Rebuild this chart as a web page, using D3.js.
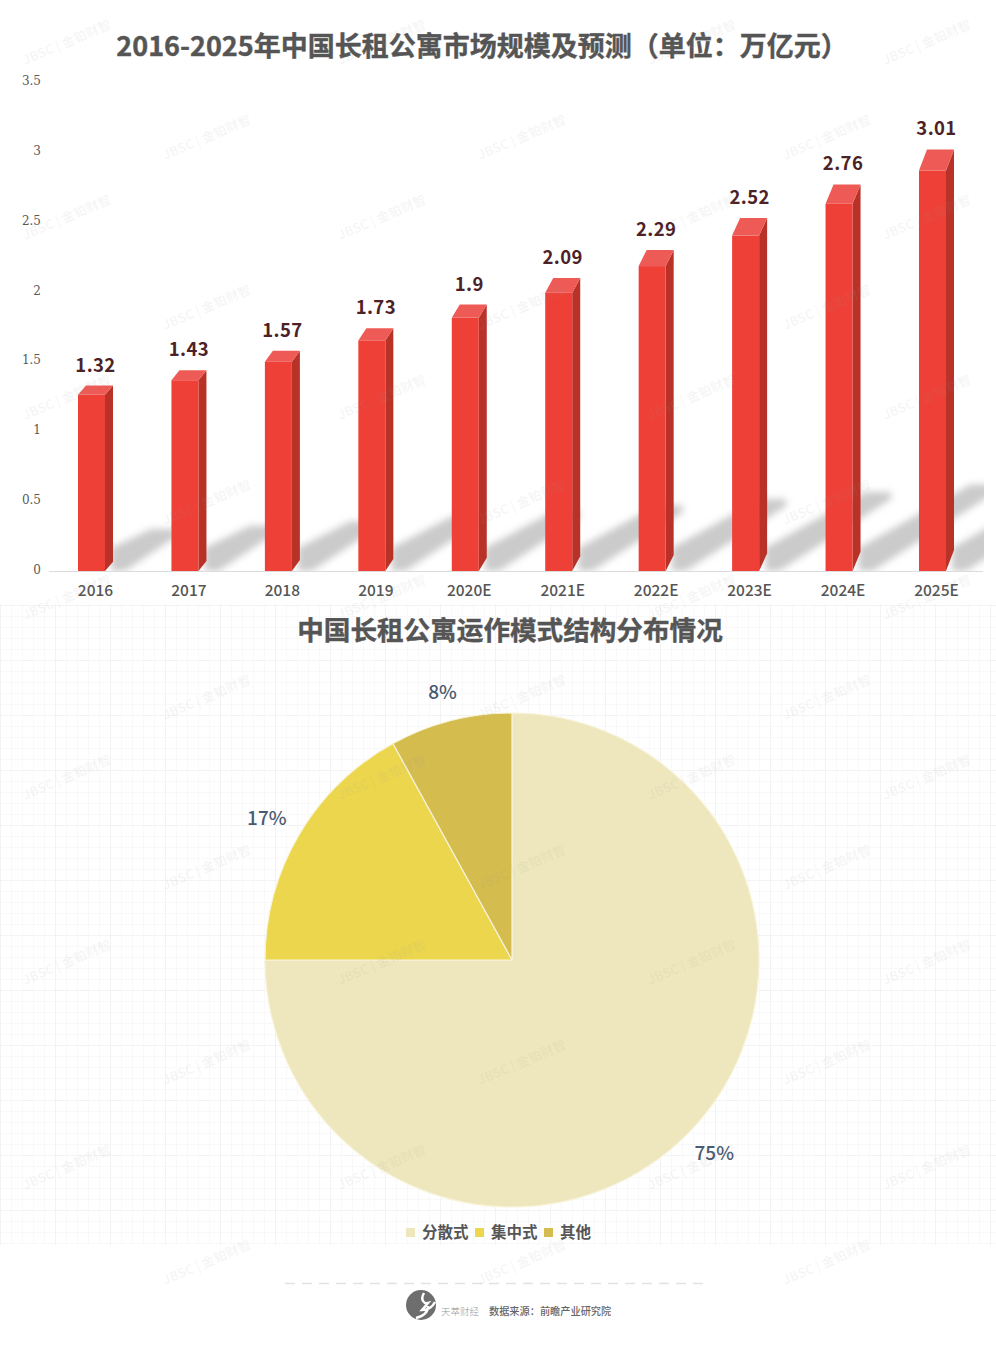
<!DOCTYPE html>
<html><head><meta charset="utf-8">
<script src="https://cdn.jsdelivr.net/npm/d3@7/dist/d3.min.js"></script>
<style>html,body{margin:0;padding:0;background:#fff}svg{display:block}text{font-family:"Noto Sans CJK SC","Noto Sans",sans-serif}</style>
</head><body><svg id="c" width="996" height="1346"></svg>
<script>
const years=["2016","2017","2018","2019","2020E","2021E","2022E","2023E","2024E","2025E"];
const marketValues=[1.32,1.43,1.57,1.73,1.9,2.09,2.29,2.52,2.76,3.01];
const yTicks=[0,0.5,1,1.5,2,2.5,3,3.5];
const pieLabels=["分散式","集中式","其他"];
const pieValues=[75,17,8];
const pieColors=["#eee7bd","#ecd64e","#d4bc4f"];
const titleTop="2016-2025年中国长租公寓市场规模及预测（单位：万亿元）";
const titlePie="中国长租公寓运作模式结构分布情况";
const sourceText="数据来源：前瞻产业研究院";
const brandText="天萃财经";
const watermarkText="JBSC | 金铂财智";

const svg=d3.select("#c");
const defs=svg.append("defs");
const p=defs.append("pattern").attr("id","grid").attr("width",11).attr("height",11).attr("patternUnits","userSpaceOnUse");
p.append("path").attr("d","M11 0H0V11").attr("fill","none").attr("stroke","#f3f3f3").attr("stroke-width",1);
const p2=defs.append("pattern").attr("id","gridB").attr("width",55).attr("height",55).attr("patternUnits","userSpaceOnUse");
p2.append("path").attr("d","M55 0H0V55").attr("fill","none").attr("stroke","#eeeeee").attr("stroke-width",1);
const bl=defs.append("filter").attr("id","blur").attr("x","-10%").attr("y","-10%").attr("width","120%").attr("height","120%");
bl.append("feGaussianBlur").attr("stdDeviation",3.5);
defs.append("clipPath").attr("id","plot").append("rect").attr("x",49).attr("y",81).attr("width",935).attr("height",490);

svg.append("rect").attr("width",996).attr("height",1346).attr("fill","#fff");
svg.append("rect").attr("x",0).attr("y",604).attr("width",996).attr("height",641).attr("fill","url(#grid)");
svg.append("rect").attr("x",0).attr("y",604).attr("width",996).attr("height",641).attr("fill","url(#gridB)");

// top chart
const y=d3.scaleLinear().domain([0,3.5]).range([570,81]);
const x=d3.scaleBand().domain(years).range([78,946]).paddingInner(0.711).paddingOuter(0);
const w=x.bandwidth(), side=8;
const depth=v=>v*7;
const g=svg.append("g");
g.append("g").selectAll("text").data(yTicks).join("text")
 .attr("x",41).attr("y",d=>y(d)+4).attr("text-anchor","end").attr("font-size",12).attr("fill","#595959")
 .style("font-family","'DejaVu Serif',serif").text(d=>d);
g.append("line").attr("x1",49).attr("x2",983).attr("y1",571.5).attr("y2",571.5).attr("stroke","#dcdcdc");

const shadowG=g.append("g").attr("clip-path","url(#plot)").append("g").attr("filter","url(#blur)").attr("fill","#cbcbcb");
years.forEach((yr,i)=>{
  const v=marketValues[i], x0=x(yr)+w+side-2, dx=v*50, dy=v*31;
  shadowG.append("path").attr("d",d3.line()([[x0,571],[x0,548],[x0+dx-26,570-dy],[x0+dx,570-dy],[x0+dx,570-dy+7],[x0+14,571]])+"Z");
});
const bars=g.append("g").selectAll("g").data(years.map((yr,i)=>({yr,v:marketValues[i]}))).join("g");
bars.append("path").attr("fill","#b93228").attr("d",d=>{
  const l=x(d.yr)+w,t=y(d.v),dy=depth(d.v);
  return `M${l},571L${l+side},${571-dy}L${l+side},${t}L${l},${t+dy}Z`;});
bars.append("rect").attr("fill","#ee4036").attr("x",d=>x(d.yr)).attr("width",w)
  .attr("y",d=>y(d.v)+depth(d.v)).attr("height",d=>571-y(d.v)-depth(d.v));
bars.append("path").attr("fill","#ee5a55").attr("d",d=>{
  const l=x(d.yr),t=y(d.v),dy=depth(d.v);
  return `M${l},${t+dy}L${l+w},${t+dy}L${l+w+side},${t}L${l+side},${t}Z`;});
bars.append("text").attr("x",d=>x(d.yr)+17.5).attr("y",d=>y(d.v)-14).attr("text-anchor","middle")
  .attr("font-size",18.5).attr("font-weight",700).attr("fill","#4d2226").attr("letter-spacing",.4).text(d=>d.v);
bars.append("text").attr("x",d=>x(d.yr)+17.5).attr("y",596).attr("text-anchor","middle")
  .attr("font-size",15.5).attr("font-weight",500).attr("fill","#555").text(d=>d.yr);

svg.append("text").attr("x",482).attr("y",56).attr("text-anchor","middle").attr("font-size",27).attr("font-weight",700).attr("fill","#555").attr("stroke","#555").attr("stroke-width",.4).text(titleTop);
svg.append("text").attr("x",510).attr("y",640).attr("text-anchor","middle").attr("font-size",26.6).attr("font-weight",700).attr("fill","#555").attr("stroke","#555").attr("stroke-width",.4).text(titlePie);

// pie
const cx=512,cy=960,R=247;
const pie=d3.pie().sort(null)(pieValues);
const arc=d3.arc().innerRadius(0).outerRadius(R);
const pg=svg.append("g").attr("transform",`translate(${cx},${cy})`);
pg.selectAll("path").data(pie).join("path").attr("d",arc).attr("fill",(d,i)=>pieColors[i]).attr("stroke","#f7f3d8").attr("stroke-width",1.2);
const lArc=d3.arc().innerRadius(R+32).outerRadius(R+32);
const nudge=[[5,-4],[-5,1],[0,3]];
pg.selectAll("text").data(pie).join("text").attr("transform",(d,i)=>{const c=lArc.centroid(d);return `translate(${c[0]+nudge[i][0]},${c[1]+nudge[i][1]})`;})
 .attr("dy",6.5).attr("text-anchor","middle").attr("font-size",19).attr("font-weight",500).attr("fill","#4a5a70").text(d=>d.data+"%");

// legend
const lx=[406,475,544];
const lg=svg.append("g").selectAll("g").data(pieLabels).join("g").attr("transform",(d,i)=>`translate(${lx[i]},1228)`);
lg.append("rect").attr("width",9).attr("height",9).attr("fill",(d,i)=>pieColors[i]);
lg.append("text").attr("x",16).attr("y",10).attr("font-size",15.5).attr("font-weight",700).attr("fill","#555").text(d=>d);

// footer
svg.append("line").attr("x1",285).attr("x2",708).attr("y1",1283.5).attr("y2",1283.5).attr("stroke","#e2e2e2").attr("stroke-width",1.5).attr("stroke-dasharray","10 7");
svg.append("circle").attr("cx",421).attr("cy",1305).attr("r",15).attr("fill","#6e6e6e");
svg.append("path").attr("d","M424 1293C420 1300 424 1304 428 1303L422 1310C428 1310 432 1308 435 1302M416 1318C424 1316 428 1312 428 1306").attr("fill","none").attr("stroke","#fff").attr("stroke-width",2.5);
svg.append("text").attr("x",441).attr("y",1315).attr("font-size",9.5).attr("font-weight",300).attr("fill","#999").text(brandText);
svg.append("text").attr("x",489).attr("y",1315).attr("font-size",10.2).attr("font-weight",500).attr("fill","#666").text(sourceText);

// watermarks
const wmCols=[25,165,340,480,650,785,885], wmRows=[65,160,240,330,420,525,620,720,800,890,985,1085,1190,1285];
const wm=svg.append("g").attr("fill","#9a9a9a").attr("fill-opacity",.09).attr("font-size",13).attr("font-weight",700);
wmRows.forEach((r,i)=>wmCols.forEach((c,j)=>{ if((i+j)%2==0) wm.append("text").attr("transform",`translate(${c},${r}) rotate(-23)`).text(watermarkText); }));
</script></body></html>
